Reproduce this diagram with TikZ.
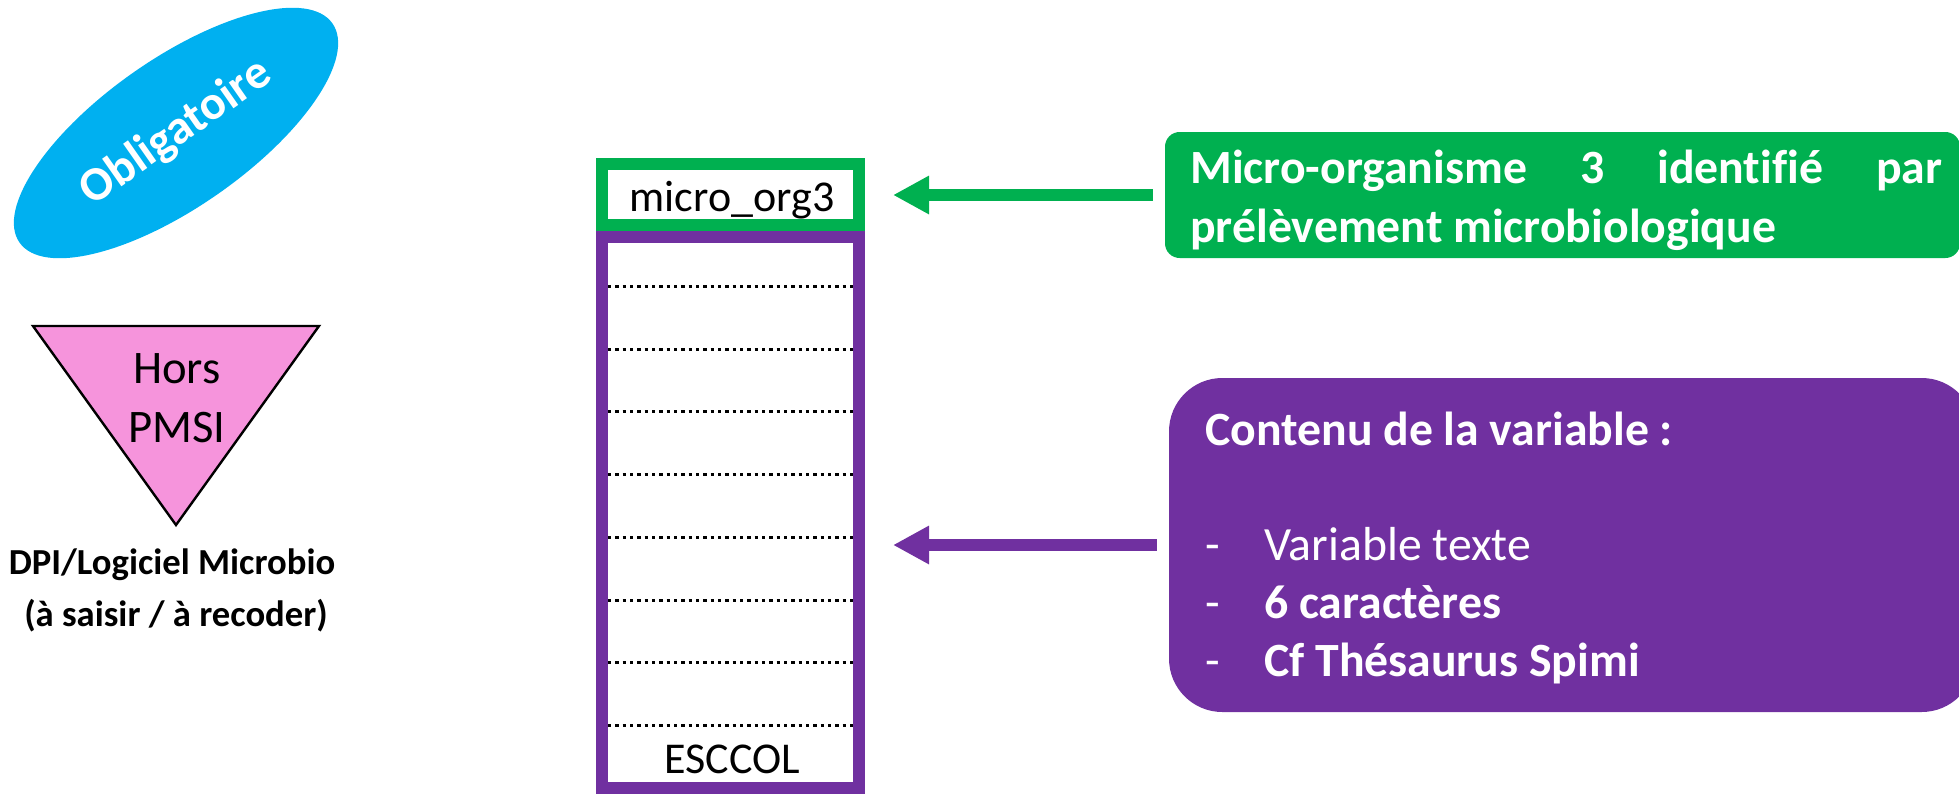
\documentclass[tikz,border=0pt]{standalone}
\usepackage{fontspec}
\setmainfont{Carlito}[Ligatures=CommonOff]
\usetikzlibrary{shapes.geometric,arrows.meta}
\definecolor{oblue}{HTML}{00B0F0}
\definecolor{ogreen}{HTML}{00B050}
\definecolor{opurple}{HTML}{7030A0}
\definecolor{opink}{HTML}{F694DC}
\begin{document}
\begin{tikzpicture}[x=0.75pt,y=-0.75pt,
  txt/.style={inner sep=0pt, anchor=base},
  txtw/.style={inner sep=0pt, anchor=base west},
  cellbox/.style={draw, line width=9pt, inner sep=0pt, minimum width=192.75pt},
  infobox/.style={inner sep=0pt},
  dotline/.style={line width=2.25pt, dash pattern=on 2.6pt off 2.9pt},
  conn/.style={line width=9pt, -{Triangle[length=27pt,width=27pt]}, shorten <=9pt, shorten >=21pt},
  bigtxt/.style={font=\fontsize{35.8pt}{39pt}\selectfont, text=white},
  bigbold/.style={font=\fontsize{35.8pt}{39pt}\selectfont\bfseries, text=white},
]
\useasboundingbox (0,0) rectangle (1959,793);

% Obligatoire ellipse
\node[ellipse, fill=oblue, rotate=35, minimum width=286.5pt, minimum height=111pt, inner sep=0pt,
  font=\fontsize{36pt}{40pt}\selectfont\bfseries, text=white] (oblig) at (176,133) {Obligatoire};

% Hors PMSI triangle
\coordinate (tl) at (33,326);
\coordinate (tr) at (319,326);
\coordinate (tb) at (176,525);
\draw[fill=opink, line width=1.8pt, line join=miter] (tl) -- (tr) -- (tb) -- cycle;
\node[txt, font=\fontsize{35pt}{42pt}\selectfont] (hors1) at (177,383) {Hors};
\node[txt, font=\fontsize{35pt}{42pt}\selectfont] (hors2) at (177,442) {PMSI};

\node[txt, font=\fontsize{27.5pt}{32pt}\selectfont\bfseries] (dpi1) at (172,574) {DPI/Logiciel Microbio};
\node[txt, font=\fontsize{27.5pt}{32pt}\selectfont\bfseries] (dpi2) at (176,626) {(à saisir / à recoder)};

% column
\node[cellbox, draw=ogreen, minimum height=45.75pt] (gcell) at (730.5,194.5) {};
\node[cellbox, draw=opurple, minimum height=413.25pt] (pcol) at (730.5,512.5) {};
\node[txt, font=\fontsize{33pt}{36pt}\selectfont] (mo) at (732,211) {micro\_org3};
\node[txt, font=\fontsize{33pt}{36pt}\selectfont] (esc) at (732,773) {ESCCOL};
\foreach \yy in {286,349,411,474,537,600,662,725}
  \draw[dotline] (608,\yy) -- (853,\yy);

% info boxes
\node[infobox, fill=ogreen, rounded corners=11pt, minimum width=596.25pt, minimum height=94.5pt] (ginfo) at (1562.5,195) {};
\node[infobox, fill=opurple, rounded corners=40pt, minimum width=604.5pt, minimum height=250.5pt] (pinfo) at (1572,545) {};

\node[txtw, bigbold] (g1) at (1190,183) {\makebox[564pt][s]{Micro-organisme 3 identifié par}};
\node[txtw, bigbold] (g2) at (1190,242) {prélèvement microbiologique};

\node[txtw, bigbold] (p0) at (1205,445) {Contenu de la variable :};
\node[txtw, bigtxt] (d1) at (1205,560) {-};
\node[txtw, bigtxt] (d2) at (1205,618) {-};
\node[txtw, bigtxt] (d3) at (1205,676) {-};
\node[txtw, bigtxt] (p1) at (1264,560) {Variable texte};
\node[txtw, bigbold] (p2) at (1264,618) {6 caractères};
\node[txtw, bigbold] (p3) at (1264,676) {Cf Thésaurus Spimi};

% arrows
\draw[conn, ogreen] (ginfo.west) -- (ginfo.west -| gcell.east);
\draw[conn, opurple] (pinfo.west) -- (pinfo.west -| pcol.east);
\end{tikzpicture}
\end{document}
